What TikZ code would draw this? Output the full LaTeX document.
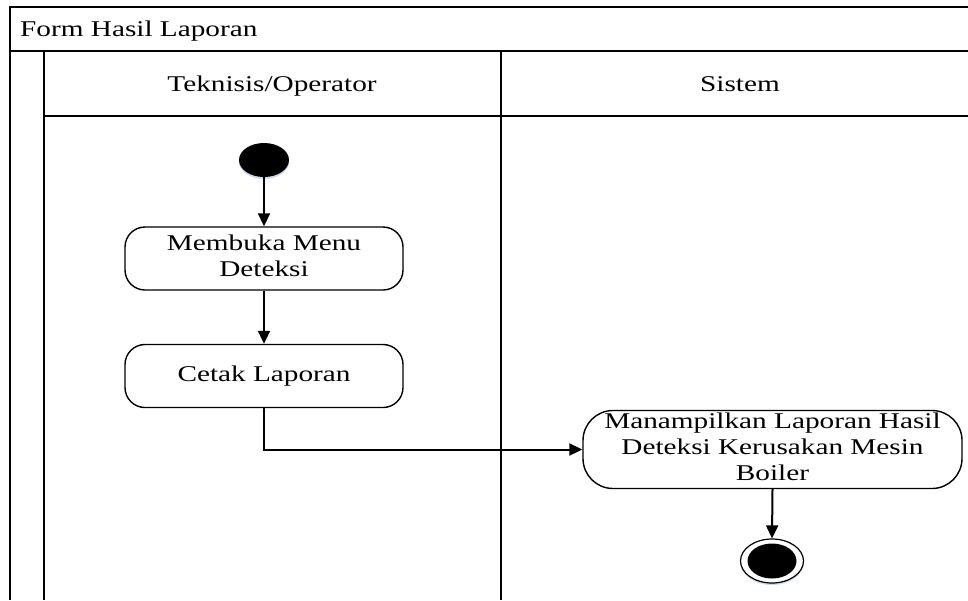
\documentclass[tikz,border=0pt]{standalone}
\usepackage{fontspec}
\setmainfont{Liberation Serif}
\usetikzlibrary{arrows.meta,shapes.geometric}
% horizontally widened text, one line or several
\newcommand{\wtext}[1]{\scalebox{1.3}[1]{#1}}
\newcommand{\wlines}[1]{\scalebox{1.3}[1]{\begin{tabular}{@{}c@{}}#1\end{tabular}}}
\definecolor{shadowblue}{RGB}{205,218,238}
\begin{document}
\begin{tikzpicture}[x=1pt,y=-1pt,
  lane/.style={line width=2pt,draw=black},
  txt/.style={inner sep=0pt,font=\fontsize{22.5}{26}\selectfont},
  action/.style={draw,line width=1.4pt,inner sep=0pt,
    minimum width=278pt,minimum height=63pt,rounded corners=20pt,
    font=\fontsize{22.5}{26}\selectfont},
  bigaction/.style={action,minimum width=379pt,minimum height=75pt,rounded corners=30pt},
  flow/.style={line width=2pt,-{Triangle[length=13pt,width=12pt]}},
  initial/.style={ellipse,fill=black,inner sep=0pt,minimum width=50pt,minimum height=34pt},
  finalring/.style={ellipse,draw,line width=1.2pt,fill=white,inner sep=0pt,minimum width=63pt,minimum height=44pt},
  finalcore/.style={ellipse,fill=black,inner sep=0pt,minimum width=49pt,minimum height=35pt},
  shade/.style={ellipse,fill=shadowblue,inner sep=0pt}
]
\useasboundingbox (0,0) rectangle (968,600);

% swimlane frame
\draw[lane] (968,7) -- (10,7) -- (10,600);
\draw[lane] (10,50.5) -- (968,50.5);
\draw[lane] (44,50.5) -- (44,600);
\draw[lane] (44,116) -- (968,116);
\draw[lane] (501,50.5) -- (501,600);

% headings
\node[txt,anchor=base west] (title) at (20,36) {\wtext{Form Hasil Laporan}};
\node[txt,anchor=base] (laneA) at (272,91) {\wtext{Teknisis/Operator}};
\node[txt,anchor=base] (laneB) at (740,91) {\wtext{Sistem}};

% start
\node[shade,minimum width=50pt,minimum height=34pt] at (264,162) {};
\node[initial] (start) at (264,160) {};

% actions
\node[action] (menu) at (264,258.5) {\wlines{Membuka Menu\\Deteksi}};
\node[action] (cetak) at (264,376) {\wtext{Cetak Laporan}};
\node[bigaction] (tampil) at (772.5,449.5) {\wlines{Manampilkan Laporan Hasil\\Deteksi Kerusakan Mesin\\Boiler}};

% end
\node[shade,minimum width=63pt,minimum height=44pt] at (772,563) {};
\node[finalring] (end) at (772,561) {};
\node[finalcore] (endcore) at (end.center) {};

% flows
\draw[flow] (start) -- (menu);
\draw[flow] (menu) -- (cetak);
\draw[flow] (cetak.south) |- (tampil.west);
\draw[flow] (tampil.south) -- (end.north);
\end{tikzpicture}
\end{document}
